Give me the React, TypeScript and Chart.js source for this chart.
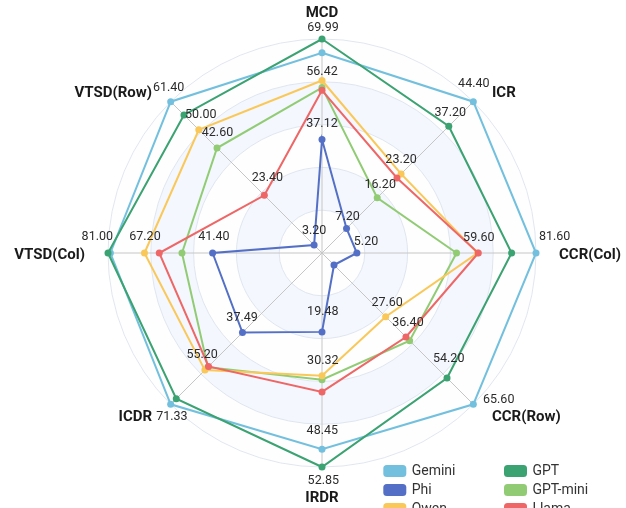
import React, { useEffect, useRef } from "react";
import { Chart, registerables } from "chart.js";

Chart.register(...registerables);

// ---- data ----
const axes = ["MCD", "ICR", "CCR(Col)", "CCR(Row)", "IRDR", "ICDR", "VTSD(Col)", "VTSD(Row)"];
const seriesNames = ["Gemini", "GPT", "Phi", "GPT-mini", "Qwen", "Llama"];
const seriesColors = ["#73c0de", "#3ba272", "#5470c6", "#91cc75", "#fac858", "#ee6666"];

const gemini = [65.5, 44.4, 81.6, 65.6, 48.45, 71.33, 80.1, 61.4];
const gpt = [69.99, 37.2, 72.3, 54.2, 52.85, 68.7, 81.0, 56.0];
const phi = [37.12, 7.2, 13.3, 5.2, 19.48, 37.49, 41.4, 3.2];
const gptMini = [54.1, 16.2, 51.3, 38.0, 31.3, 53.8, 53.0, 42.6];
const qwen = [56.42, 23.2, 59.3, 27.6, 30.32, 55.2, 67.2, 50.0];
const llama = [53.2, 22.0, 59.6, 36.4, 34.3, 53.5, 61.6, 23.4];

const allSeries = [gemini, gpt, phi, gptMini, qwen, llama];
const axisMax = axes.map((_, i) => Math.max(...allSeries.map((s) => s[i])));

// which point values are printed: [series, axis, dx, dy] (label nudge from the point)
const shownLabels: [number, number, number, number][] = [
  [1, 0, 1, -11.5],
  [4, 0, 0, -8.5],
  [2, 0, 0, -16],
  [0, 1, 0.5, -18],
  [1, 1, 1.5, -13],
  [4, 1, 0, -14],
  [3, 1, 3, -13],
  [2, 1, 1, -12],
  [0, 2, 18.7, -16.3],
  [5, 2, 0.5, -15],
  [0, 3, 25.4, -4],
  [1, 3, 1.7, -19],
  [5, 3, 2, -14.4],
  [4, 3, 1.5, -14],
  [2, 3, 32, -23],
  [1, 4, 1.3, 13.4],
  [0, 4, 0.3, -18.3],
  [4, 4, 0.8, -15],
  [2, 4, 0.8, -20.4],
  [0, 5, 1.2, 13],
  [4, 5, -2.7, -15.5],
  [2, 5, -0.4, -15],
  [1, 6, -10.7, -15.8],
  [4, 6, 0.5, -16],
  [2, 6, 1.3, -16],
  [0, 7, -2, -13.4],
  [4, 7, 2, -14.7],
  [3, 7, 0.5, -15.4],
  [5, 7, 3, -17.4],
  [2, 7, 0, -14.7],
];

const bandColors = ["#fefefe", "#f4f7fd", "#fefefe", "#f4f7fd", "#fefefe"];
const FONT = "Roboto, 'Noto Sans', sans-serif";

const bandsPlugin = {
  id: "bands",
  beforeDraw(chart: any) {
    const r = chart.scales.r;
    const ctx = chart.ctx;
    const vals = r.ticks.map((t: any) => t.value);
    ctx.save();
    for (let k = vals.length - 1; k >= 1; k--) {
      ctx.beginPath();
      ctx.arc(r.xCenter, r.yCenter, r.getDistanceFromCenterForValue(vals[k]), 0, Math.PI * 2);
      ctx.fillStyle = bandColors[(k - 1) % bandColors.length];
      ctx.fill();
    }
    ctx.restore();
  },
};

const namesPlugin = {
  id: "axisNames",
  afterDraw(chart: any) {
    const r = chart.scales.r;
    const ctx = chart.ctx;
    ctx.save();
    ctx.font = `bold 15px ${FONT}`;
    ctx.fillStyle = "#1a1a1a";
    axes.forEach((name, i) => {
      const p = r.getPointPosition(i, r.drawingArea + 15);
      const c = Math.cos(p.angle);
      const s = Math.sin(p.angle);
      if (Math.abs(c) < 0.01) {
        ctx.textAlign = "center";
        ctx.textBaseline = "alphabetic";
        ctx.fillText(name, p.x, s < 0 ? p.y - 7 : p.y + 20.3);
      } else {
        ctx.textAlign = c > 0 ? "left" : "right";
        ctx.textBaseline = "middle";
        ctx.fillText(name, p.x + (c > 0 ? 8 : -8), p.y + 2);
      }
    });
    ctx.restore();
  },
};

const valuesPlugin = {
  id: "valueLabels",
  afterDatasetsDraw(chart: any) {
    const ctx = chart.ctx;
    ctx.save();
    ctx.font = `12.5px ${FONT}`;
    ctx.fillStyle = "#2b2b2b";
    ctx.textAlign = "center";
    ctx.textBaseline = "middle";
    shownLabels.forEach(([s, a, dx, dy]) => {
      const el = chart.getDatasetMeta(s).data[a];
      ctx.fillText(allSeries[s][a].toFixed(2), el.x + dx, el.y + dy);
    });
    ctx.restore();
  },
};

const legendPlugin = {
  id: "legendGrid",
  afterDraw(chart: any) {
    const ctx = chart.ctx;
    ctx.save();
    ctx.font = `14px ${FONT}`;
    ctx.textAlign = "left";
    ctx.textBaseline = "middle";
    chart.data.datasets.forEach((ds: any, i: number) => {
      const x = 383.3 + (i % 2) * 120.7;
      const y = 471 + Math.floor(i / 2) * 19;
      ctx.fillStyle = ds.borderColor;
      ctx.beginPath();
      (ctx as any).roundRect(x, y - 6, 23, 12, 3.5);
      ctx.fill();
      ctx.fillStyle = "#333";
      ctx.fillText(ds.label, x + 28.4, y + 0.5);
    });
    ctx.restore();
  },
};

export default function App() {
  const ref = useRef<HTMLCanvasElement | null>(null);

  useEffect(() => {
    if (!ref.current) return;
    const chart = new Chart(ref.current, {
      type: "radar",
      data: {
        labels: axes,
        datasets: allSeries.map((s, i) => ({
          label: seriesNames[i],
          data: s.map((v, k) => (v / axisMax[k]) * 100),
          borderColor: seriesColors[i],
          backgroundColor: seriesColors[i],
          pointBackgroundColor: seriesColors[i],
          pointBorderWidth: 0,
          pointRadius: 3.5,
          borderWidth: 2,
          fill: false,
          tension: 0,
          clip: false as any,
          order: allSeries.length - i,
        })),
      },
      options: {
        animation: false,
        responsive: false,
        events: [],
        layout: { padding: { left: 108, right: 90, top: 39, bottom: 41 } },
        plugins: { legend: { display: false }, tooltip: { enabled: false } },
        scales: {
          r: {
            min: 0,
            max: 100,
            ticks: { display: false, stepSize: 20 },
            grid: { circular: true, color: "#e0e6f1", lineWidth: 1 },
            angleLines: { display: true, color: "#c6c6c6", lineWidth: 1 },
            pointLabels: { display: false },
          },
        },
      },
      plugins: [bandsPlugin, valuesPlugin, namesPlugin, legendPlugin],
    });
    return () => chart.destroy();
  }, []);

  return (
    <div style={{ position: "absolute", left: 0, top: 0, width: 626, height: 508, overflow: "hidden", background: "#fff" }}>
      <canvas ref={ref} width={626} height={508} style={{ display: "block" }} />
    </div>
  );
}
